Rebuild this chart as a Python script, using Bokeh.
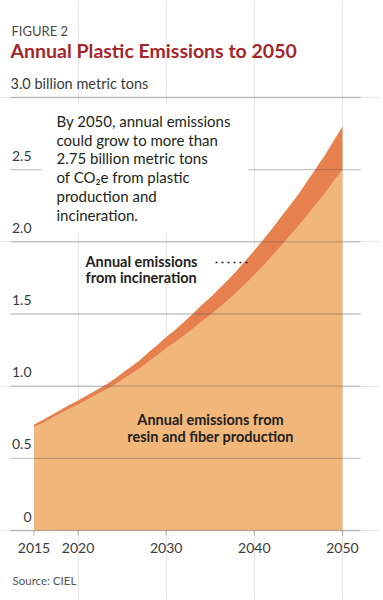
from bokeh.plotting import figure
from bokeh.models import Range1d, BoxAnnotation
from bokeh.core.properties import value
from bokeh.embed import file_html
from bokeh.resources import INLINE

# ---------------- data ----------------
years = list(range(2015, 2051))
total_emissions = [0.735, 0.765, 0.80, 0.835, 0.87, 0.90, 0.935, 0.97, 1.005, 1.045,
                   1.09, 1.135, 1.18, 1.235, 1.285, 1.34, 1.39, 1.445, 1.50, 1.56,
                   1.615, 1.675, 1.735, 1.80, 1.87, 1.94, 2.015, 2.09, 2.17, 2.25,
                   2.33, 2.42, 2.51, 2.60, 2.70, 2.80]
resin_fiber = [0.717, 0.745, 0.778, 0.811, 0.844, 0.872, 0.905, 0.938, 0.970, 1.005,
               1.045, 1.085, 1.123, 1.171, 1.214, 1.262, 1.304, 1.350, 1.396, 1.447,
               1.493, 1.544, 1.595, 1.650, 1.710, 1.770, 1.835, 1.900, 1.970, 2.040,
               2.110, 2.185, 2.260, 2.335, 2.420, 2.500]
y_ticks = [0, 0.5, 1.0, 1.5, 2.0, 2.5]
y_tick_labels = ["0", "0.5", "1.0", "1.5", "2.0", "2.5"]
y_top = 3.0
y_top_label = "3.0 billion metric tons"
x_ticks = [2015, 2020, 2030, 2040, 2050]
x_tick_labels = ["2015", "2020", "2030", "2040", "2050"]

# ---------------- geometry (canvas pixels -> data) ----------------
W, H = 380, 598
PX_PER_YEAR = 8.814
PX_PER_UNIT = 144.33
X0 = 2015 - 33.5 / PX_PER_YEAR
Y0 = -(H - 530) / PX_PER_UNIT


def sx(px):
    return X0 + px / PX_PER_YEAR


def sy(py):
    return (530 - py) / PX_PER_UNIT


FONT = value("Lato")
LIGHT = "#F1B67A"
DARK = "#E6804D"
TEXT = "#231F20"
AXIS_TEXT = "#3a3a3a"
GRID = "#555555"

p = figure(width=W, height=H, output_backend="svg", toolbar_location=None,
           x_range=Range1d(X0, X0 + W / PX_PER_YEAR),
           y_range=Range1d(Y0, Y0 + H / PX_PER_UNIT),
           x_axis_location=None, y_axis_location=None, min_border=0)
p.outline_line_color = None
p.background_fill_color = "white"

# areas
p.varea(x=years, y1=0, y2=resin_fiber, fill_color=LIGHT)
p.varea(x=years, y1=resin_fiber, y2=total_emissions, fill_color=DARK)

# gridlines (drawn over the areas)
grid_vals = y_ticks + [y_top]
p.segment(x0=[sx(10)] * len(grid_vals), y0=grid_vals,
          x1=[sx(360)] * len(grid_vals), y1=grid_vals,
          line_color=GRID, line_alpha=0.33, line_width=1.3)

# x tick marks
p.segment(x0=x_ticks, y0=[0] * len(x_ticks), x1=x_ticks,
          y1=[-5 / PX_PER_UNIT] * len(x_ticks),
          line_color=GRID, line_alpha=0.33, line_width=1.3)

# white box behind the annotation paragraph
box = BoxAnnotation(left=sx(41), right=sx(248), top=sy(103), bottom=sy(232),
                    fill_color="white", fill_alpha=1.0, line_color=None)
p.add_layout(box)

# y tick labels
p.text(x=[sx(31)] * len(y_ticks), y=[t + 14 / PX_PER_UNIT for t in y_ticks],
       text=y_tick_labels, text_align="right", text_baseline="middle",
       text_font=FONT, text_font_size="14px", text_color=AXIS_TEXT,
       level="overlay")
p.text(x=[sx(10)], y=[y_top + 14 / PX_PER_UNIT], text=[y_top_label],
       text_align="left", text_baseline="middle",
       text_font=FONT, text_font_size="14.5px", text_color=AXIS_TEXT,
       level="overlay")

# x tick labels
p.text(x=x_ticks, y=[-17 / PX_PER_UNIT] * len(x_ticks), text=x_tick_labels,
       text_align="center", text_baseline="middle",
       text_font=FONT, text_font_size="14px", text_color=AXIS_TEXT,
       level="overlay")

# titles
p.text(x=[sx(11)], y=[sy(30)], text=["FIGURE 2"], text_align="left",
       text_baseline="middle", text_font=FONT, text_font_size="13px",
       text_color="#4a4a4a", level="overlay")
p.text(x=[sx(10)], y=[sy(49.5)], text=["Annual Plastic Emissions to 2050"],
       text_align="left", text_baseline="middle", text_font=FONT,
       text_font_size="19.5px", text_font_style="bold", text_color="#A3272B",
       level="overlay")

# annotation paragraph
para = ["By 2050, annual emissions", "could grow to more than",
        "2.75 billion metric tons", "of CO\u2082e from plastic",
        "production and", "incineration."]
para_y = [120, 139, 157.7, 176.7, 195.3, 214.5]
p.text(x=[sx(56)] * len(para), y=[sy(v) for v in para_y], text=para,
       text_align="left", text_baseline="middle", text_font=FONT,
       text_font_size="15px", text_color=TEXT, level="overlay")

# series labels
p.text(x=[sx(85)] * 2, y=[sy(261), sy(277)],
       text=["Annual emissions", "from incineration"],
       text_align="left", text_baseline="middle", text_font=FONT,
       text_font_size="14.5px", text_font_style="bold", text_color=TEXT,
       level="overlay")
p.segment(x0=[sx(215)], y0=[sy(262)], x1=[sx(249)], y1=[sy(262)],
          line_color=TEXT, line_width=1.6, line_dash="dotted",
          level="overlay")

p.text(x=[sx(210)] * 2, y=[sy(419), sy(436)],
       text=["Annual emissions from", "resin and fiber production"],
       text_align="center", text_baseline="middle", text_font=FONT,
       text_font_size="14.5px", text_font_style="bold", text_color=TEXT,
       level="overlay")

# source
p.text(x=[sx(12)], y=[sy(580)], text=["Source: CIEL"], text_align="left",
       text_baseline="middle", text_font=FONT, text_font_size="11.5px",
       text_color="#555555", level="overlay")

open("out.html", "w").write(file_html(p, INLINE))
